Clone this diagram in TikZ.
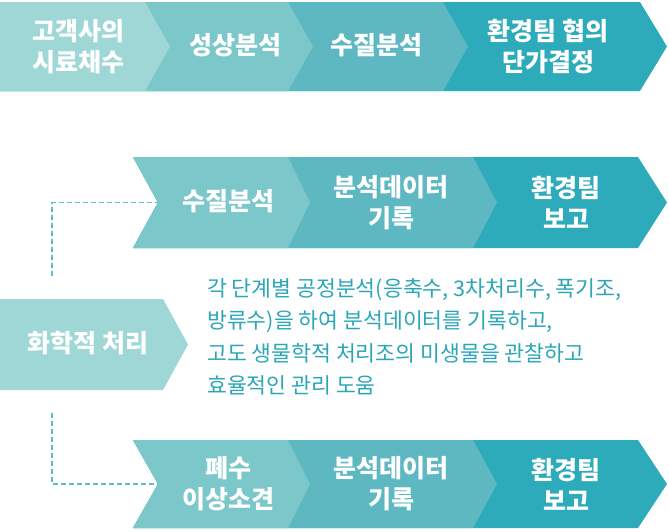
\documentclass[tikz,border=0pt]{standalone}
\usepackage{fontspec}
\setmainfont{Noto Sans CJK KR}
\definecolor{cA}{HTML}{9FD7D7}
\definecolor{cB}{HTML}{7CC7CA}
\definecolor{cC}{HTML}{5DB8C1}
\definecolor{cD}{HTML}{2DABBB}
\definecolor{txtc}{HTML}{2BA6B7}
\definecolor{dotc}{HTML}{5BBFC9}
\begin{document}
\begin{tikzpicture}[x=1pt,y=-1pt,
  lbl/.style={text=white, font=\fontsize{25}{31}\selectfont\bfseries, align=center, inner sep=0pt},
  desc/.style={text=txtc, font=\fontsize{21.6}{32.3}\selectfont, align=left, anchor=north west, inner sep=0pt},
  dotline/.style={draw=dotc, line width=1.6pt, dash pattern=on 5pt off 3pt}]
\useasboundingbox (0,0) rectangle (669,531);
% ---- top row (layered from right to left)
\fill[cD] (0,2) -- (640,2) -- (667,46.5) -- (640,91) -- (0,91) -- cycle;
\fill[cC] (0,2) -- (443,2) -- (468,46.5) -- (443,91) -- (0,91) -- cycle;
\fill[cB] (0,2) -- (288,2) -- (313,46.5) -- (288,91) -- (0,91) -- cycle;
\fill[cA] (0,2) -- (145,2) -- (170,46.5) -- (145,91) -- (0,91) -- cycle;
\node[lbl] (t1) at (78,46.5) {고객사의\\시료채수};
\node[lbl] (t2) at (235,45) {성상분석};
\node[lbl] (t3) at (376,45) {수질분석};
\node[lbl] (t4) at (548,46.5) {환경팀 협의\\단가결정};
% ---- middle row
\fill[cD] (133,157) -- (638,157) -- (667,202.5) -- (638,248) -- (133,248) -- (158,202.5) -- cycle;
\fill[cC] (133,157) -- (473,157) -- (497,202.5) -- (473,248) -- (133,248) -- (158,202.5) -- cycle;
\fill[cB] (133,157) -- (288,157) -- (310,202.5) -- (288,248) -- (133,248) -- (158,202.5) -- cycle;
\node[lbl] (m1) at (228,201) {수질분석};
\node[lbl] (m2) at (391,202.5) {분석데이터\\기록};
\node[lbl] (m3) at (566,202.5) {환경팀\\보고};
% ---- bottom row
\fill[cD] (133,440) -- (638,440) -- (667,484) -- (638,528) -- (133,528) -- (158,484) -- cycle;
\fill[cC] (133,440) -- (473,440) -- (497,484) -- (473,528) -- (133,528) -- (158,484) -- cycle;
\fill[cB] (133,440) -- (288,440) -- (310,484) -- (288,528) -- (133,528) -- (158,484) -- cycle;
\node[lbl] (b1) at (228,484) {폐수\\이상소견};
\node[lbl] (b2) at (391,484) {분석데이터\\기록};
\node[lbl] (b3) at (566,484) {환경팀\\보고};
% ---- chemical treatment box
\fill[cA] (0,299) -- (163,299) -- (188,344.5) -- (163,390) -- (0,390) -- cycle;
\node[lbl] (chem) at (88,343) {화학적 처리};
% ---- description
\node[desc] (desc) at (207,278.5) {각 단계별 공정분석(응축수, 3차처리수, 폭기조,\\방류수)을 하여 분석데이터를 기록하고,\\고도 생물학적 처리조의 미생물을 관찰하고\\효율적인 관리 도움};
% ---- dotted connectors
\coordinate (m1notch) at (158,202.5);
\coordinate (b1notch) at (158,484);
\coordinate (vtop) at (52,276);
\coordinate (vbot) at (52,413);
\draw[dotline] (vtop) |- (m1notch);
\draw[dotline] (vbot) |- (b1notch);
\end{tikzpicture}
\end{document}
